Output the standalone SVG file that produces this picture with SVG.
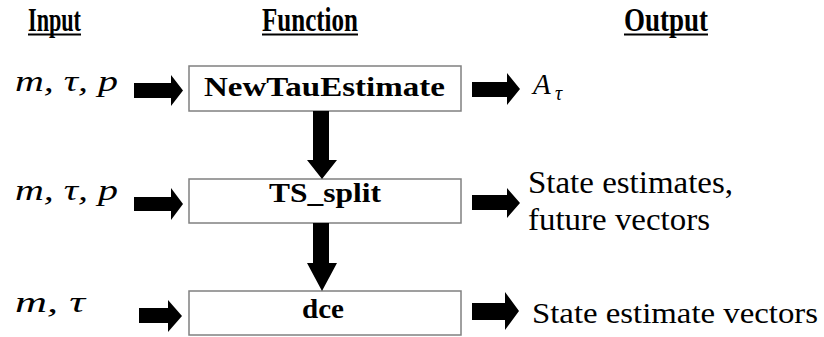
<svg xmlns="http://www.w3.org/2000/svg" width="824" height="337" viewBox="0 0 824 337">
<style>
text{font-family:"Liberation Serif","Times New Roman",serif;fill:#000}
.box{fill:#fff;stroke:#808080;stroke-width:1.5}
.fn{font-weight:bold;font-size:28px}
.hd{font-weight:bold;font-size:34px}
.math{font-style:italic;font-size:29px}
.out{font-size:31px}
.arrow{fill:#000}
.ul{stroke:#000;stroke-width:2}
</style>
<rect width="824" height="337" fill="#fff"/>
<g id="headings">
<text class="hd" x="28" y="31" textLength="53" lengthAdjust="spacingAndGlyphs">Input</text>
<line class="ul" x1="28" y1="34.5" x2="81" y2="34.5"/>
<text class="hd" x="262" y="31" textLength="96" lengthAdjust="spacingAndGlyphs">Function</text>
<line class="ul" x1="262" y1="34.5" x2="358" y2="34.5"/>
<text class="hd" x="624" y="31" textLength="84" lengthAdjust="spacingAndGlyphs">Output</text>
<line class="ul" x1="624" y1="34.5" x2="708" y2="34.5"/>
</g>
<g id="input1"><text class="math" x="15" y="91" textLength="103" lengthAdjust="spacingAndGlyphs">m, τ, p</text></g>
<g id="input2"><text class="math" x="15" y="200" textLength="103" lengthAdjust="spacingAndGlyphs">m, τ, p</text></g>
<g id="input3"><text class="math" x="15" y="312" textLength="70" lengthAdjust="spacingAndGlyphs">m, τ</text></g>
<g id="newtau">
<rect class="box" x="189" y="66" width="272" height="45"/>
<text class="fn" x="204" y="96" textLength="241" lengthAdjust="spacingAndGlyphs">NewTauEstimate</text>
</g>
<g id="tssplit">
<rect class="box" x="189" y="179" width="272" height="44"/>
<text class="fn" x="269" y="202" textLength="112" lengthAdjust="spacingAndGlyphs">TS_split</text>
</g>
<g id="dce">
<rect class="box" x="189" y="291" width="272" height="44"/>
<text class="fn" x="302" y="318" textLength="42" lengthAdjust="spacingAndGlyphs">dce</text>
</g>
<g id="output1">
<text class="math" x="533" y="94" style="font-size:29px">A</text>
<text class="math" x="555" y="100" style="font-size:20px">τ</text>
</g>
<g id="output2">
<text class="out" x="528" y="193" textLength="205" lengthAdjust="spacingAndGlyphs">State estimates,</text>
<text class="out" x="528" y="230" textLength="182" lengthAdjust="spacingAndGlyphs">future vectors</text>
</g>
<g id="output3">
<text class="out" x="532" y="323" style="font-size:30px" textLength="286" lengthAdjust="spacingAndGlyphs">State estimate vectors</text>
</g>
<g id="connectors">
<path class="arrow" d="M134,83 H171 V75 L183,90.5 L171,106 V98 H134 Z"/>
<path class="arrow" d="M134,197 H171 V188 L183,204 L171,220 V211 H134 Z"/>
<path class="arrow" d="M139,308 H168 V300 L182,316 L168,332 V323 H139 Z"/>
<path class="arrow" d="M472,82 H507 V73 L520,89 L507,105 V97 H472 Z"/>
<path class="arrow" d="M472,195 H507 V188 L520,203 L507,218 V210 H472 Z"/>
<path class="arrow" d="M472,303 H505 V292 L519,311 L505,330 V320 H472 Z"/>
<path class="arrow" d="M313,111 H329 V160 H337 L322,179 L307,160 H313 Z"/>
<path class="arrow" d="M313,223 H329 V263 H337 L322,291 L307,263 H313 Z"/>
</g>
</svg>
